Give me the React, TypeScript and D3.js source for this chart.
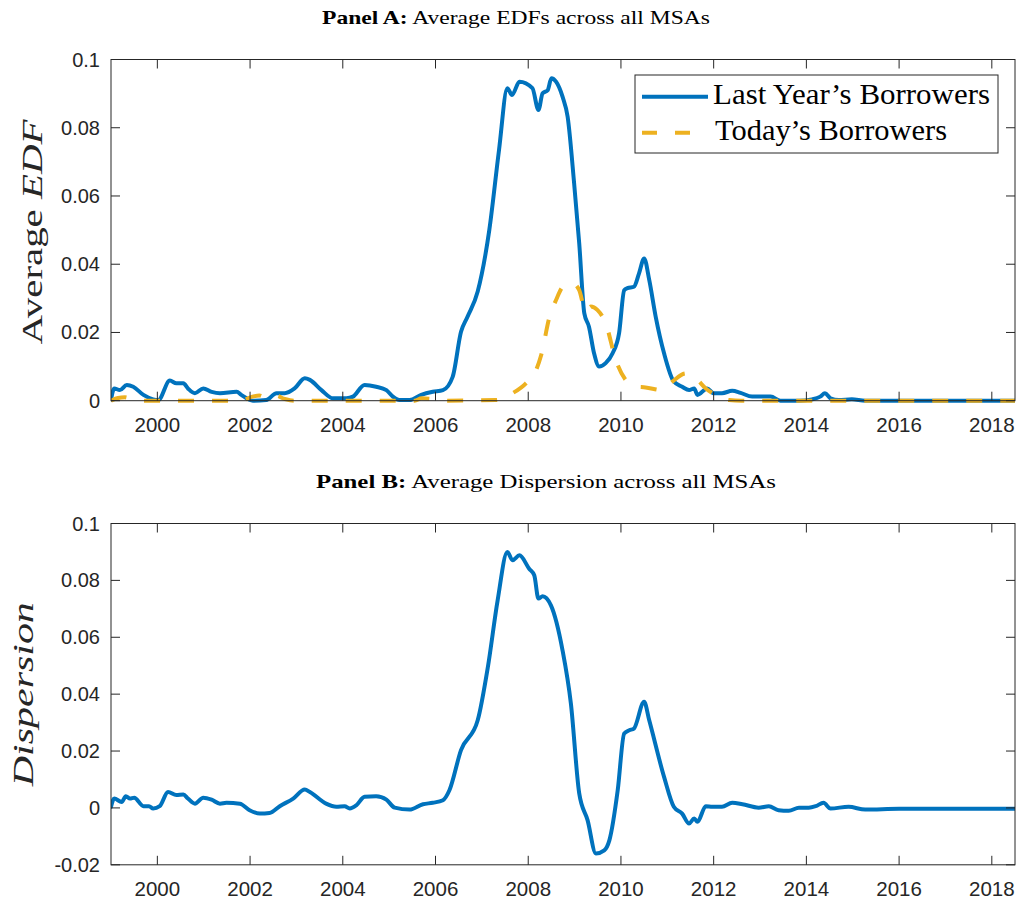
import React from 'react';
import * as d3 from 'd3';

// ---------- data ----------
const yearTicks = [2000, 2002, 2004, 2006, 2008, 2010, 2012, 2014, 2016, 2018];
const edfTicks = [0, 0.02, 0.04, 0.06, 0.08, 0.1];
const dispTicks = [-0.02, 0, 0.02, 0.04, 0.06, 0.08, 0.1];

const lastYearDates = [1999.00, 1999.07, 1999.19, 1999.34, 1999.48, 1999.70, 1999.91, 2000.02, 2000.27, 2000.41, 2000.56, 2000.66, 2000.81, 2000.99, 2001.17, 2001.35, 2001.71, 2001.81, 2002.06, 2002.35, 2002.57, 2002.75, 2002.96, 2003.18, 2003.29, 2003.54, 2003.79, 2004.08, 2004.22, 2004.47, 2004.72, 2004.94, 2005.08, 2005.22, 2005.44, 2005.69, 2005.94, 2006.16, 2006.37, 2006.55, 2006.69, 2006.91, 2007.16, 2007.37, 2007.55, 2007.65, 2007.81, 2008.09, 2008.22, 2008.31, 2008.42, 2008.50, 2008.60, 2008.74, 2008.85, 2008.99, 2009.10, 2009.21, 2009.31, 2009.42, 2009.53, 2009.67, 2009.82, 2009.96, 2010.07, 2010.14, 2010.28, 2010.39, 2010.50, 2010.61, 2010.75, 2010.93, 2011.14, 2011.32, 2011.47, 2011.58, 2011.65, 2011.86, 2012.00, 2012.18, 2012.40, 2012.58, 2012.83, 2013.23, 2013.44, 2013.84, 2014.12, 2014.30, 2014.40, 2014.52, 2014.70, 2014.98, 2015.27, 2018.50];
const lastYearEDF = [0.0002, 0.0036, 0.0031, 0.0046, 0.0041, 0.0017, 0.0004, 0.0002, 0.0059, 0.0051, 0.0051, 0.0036, 0.0022, 0.0036, 0.0026, 0.0022, 0.0026, 0.0017, 0.0000, 0.0002, 0.0022, 0.0022, 0.0036, 0.0066, 0.0061, 0.0031, 0.0007, 0.0007, 0.0012, 0.0046, 0.0041, 0.0031, 0.0012, 0.0002, 0.0002, 0.0017, 0.0026, 0.0031, 0.0070, 0.0202, 0.0246, 0.0320, 0.0500, 0.0735, 0.0916, 0.0896, 0.0935, 0.0916, 0.0852, 0.0901, 0.0910, 0.0945, 0.0935, 0.0891, 0.0832, 0.0637, 0.0461, 0.0256, 0.0217, 0.0139, 0.0100, 0.0110, 0.0139, 0.0198, 0.0324, 0.0330, 0.0334, 0.0373, 0.0417, 0.0354, 0.0246, 0.0139, 0.0056, 0.0041, 0.0031, 0.0036, 0.0017, 0.0036, 0.0022, 0.0022, 0.0029, 0.0023, 0.0012, 0.0012, 0.0000, 0.0000, 0.0004, 0.0012, 0.0022, 0.0007, 0.0002, 0.0004, 0.0000, 0.0000];

const todayDates = [1999.00, 1999.15, 1999.30, 1999.50, 1999.80, 2001.80, 2002.05, 2002.20, 2002.35, 2002.55, 2002.75, 2002.95, 2005.55, 2005.70, 2005.95, 2006.20, 2007.30, 2007.66, 2007.95, 2008.17, 2008.28, 2008.46, 2008.60, 2008.75, 2008.96, 2009.10, 2009.24, 2009.35, 2009.49, 2009.67, 2009.89, 2010.10, 2010.32, 2010.53, 2010.89, 2011.11, 2011.40, 2011.61, 2011.83, 2012.12, 2012.33, 2012.60, 2018.50];
const todayEDF = [0.0000, 0.0008, 0.0010, 0.0002, 0.0000, 0.0000, 0.0012, 0.0015, 0.0008, 0.0015, 0.0005, 0.0000, 0.0000, 0.0007, 0.0005, 0.0000, 0.0002, 0.0022, 0.0051, 0.0090, 0.0134, 0.0246, 0.0295, 0.0334, 0.0344, 0.0324, 0.0261, 0.0276, 0.0266, 0.0227, 0.0119, 0.0061, 0.0041, 0.0039, 0.0031, 0.0056, 0.0080, 0.0066, 0.0036, 0.0012, 0.0002, 0.0000, 0.0000];

const dispersionDates = [1999.00, 1999.07, 1999.23, 1999.32, 1999.41, 1999.50, 1999.70, 1999.82, 1999.91, 2000.05, 2000.23, 2000.41, 2000.56, 2000.66, 2000.81, 2000.99, 2001.17, 2001.35, 2001.49, 2001.78, 2001.99, 2002.21, 2002.42, 2002.64, 2002.93, 2003.18, 2003.29, 2003.64, 2003.86, 2004.04, 2004.15, 2004.29, 2004.47, 2004.72, 2004.94, 2005.12, 2005.44, 2005.73, 2005.94, 2006.16, 2006.30, 2006.55, 2006.91, 2007.13, 2007.34, 2007.55, 2007.66, 2007.81, 2008.02, 2008.13, 2008.22, 2008.31, 2008.49, 2008.74, 2008.92, 2009.10, 2009.28, 2009.46, 2009.64, 2009.75, 2009.93, 2010.07, 2010.18, 2010.28, 2010.50, 2010.61, 2010.93, 2011.14, 2011.32, 2011.47, 2011.58, 2011.65, 2011.83, 2011.97, 2012.18, 2012.40, 2012.62, 2012.97, 2013.19, 2013.40, 2013.62, 2013.84, 2014.05, 2014.20, 2014.37, 2014.52, 2014.91, 2015.27, 2016.00, 2018.50];
const dispersionValues = [0.0004, 0.0033, 0.0021, 0.0041, 0.0033, 0.0036, 0.0006, 0.0006, -0.0002, 0.0006, 0.0056, 0.0045, 0.0047, 0.0033, 0.0015, 0.0036, 0.0029, 0.0015, 0.0018, 0.0015, -0.0008, -0.0020, -0.0018, 0.0006, 0.0033, 0.0065, 0.0056, 0.0015, 0.0004, 0.0006, -0.0002, 0.0009, 0.0039, 0.0041, 0.0029, 0.0001, -0.0006, 0.0013, 0.0018, 0.0027, 0.0062, 0.0203, 0.0308, 0.0496, 0.0730, 0.0900, 0.0871, 0.0888, 0.0841, 0.0818, 0.0736, 0.0744, 0.0712, 0.0554, 0.0367, 0.0051, -0.0043, -0.0160, -0.0149, -0.0114, 0.0062, 0.0262, 0.0273, 0.0279, 0.0373, 0.0308, 0.0109, 0.0004, -0.0020, -0.0055, -0.0037, -0.0049, 0.0006, 0.0004, 0.0004, 0.0018, 0.0013, 0.0001, 0.0006, -0.0008, -0.0010, 0.0001, 0.0001, 0.0006, 0.0018, -0.0002, 0.0004, -0.0006, -0.0003, -0.0003];

// ---------- styling ----------
const BLUE = '#0072BD';
const YELLOW = '#EDB120';
const AXIS = '#262626';
const SANS = '"Liberation Sans", Arial, Helvetica, sans-serif';
const SERIF = '"Liberation Serif", "Times New Roman", serif';

const X0 = 111;
const X1 = 1015;
const fmt = (v: number) => String(+v.toFixed(2));

type PanelProps = {
  top: number;
  bottom: number;
  yDomain: [number, number];
  yTicks: number[];
  series: { dates: number[]; values: number[]; color: string; dash?: string }[];
  id: string;
};

function Panel({ top, bottom, yDomain, yTicks, series, id }: PanelProps) {
  const x = d3.scaleLinear().domain([1999, 2018.5]).range([X0, X1]);
  const y = d3.scaleLinear().domain(yDomain).range([bottom, top]);
  const tick = 9;
  return (
    <g>
      <defs>
        <clipPath id={id}>
          <rect x={X0} y={top - 3} width={X1 - X0} height={bottom - top + 6} />
        </clipPath>
      </defs>
      <g clipPath={`url(#${id})`}>
        {series.map((s, i) => {
          const pts = s.dates.map((d, k) => [d, s.values[k]] as [number, number]);
          const line = d3
            .line<[number, number]>()
            .x((p) => x(p[0]))
            .y((p) => y(p[1]))
            .curve(d3.curveMonotoneX);
          return (
            <path
              key={i}
              d={line(pts) || ''}
              fill="none"
              stroke={s.color}
              strokeWidth={4}
              strokeLinejoin="round"
              strokeLinecap={s.dash ? 'butt' : 'round'}
              strokeDasharray={s.dash}
            />
          );
        })}
      </g>
      <rect x={X0} y={top} width={X1 - X0} height={bottom - top} fill="none" stroke={AXIS} strokeWidth={1} />
      {yearTicks.map((t) => (
        <g key={'x' + t}>
          <line x1={x(t)} x2={x(t)} y1={bottom} y2={bottom - tick} stroke={AXIS} />
          <line x1={x(t)} x2={x(t)} y1={top} y2={top + tick} stroke={AXIS} />
          <text x={x(t)} y={bottom + 31} textAnchor="middle" fontFamily={SANS} fontSize={20.5} fill={AXIS}>
            {t}
          </text>
        </g>
      ))}
      {yTicks.map((t) => (
        <g key={'y' + t}>
          <line x1={X0} x2={X0 + tick} y1={y(t)} y2={y(t)} stroke={AXIS} />
          <line x1={X1} x2={X1 - tick} y1={y(t)} y2={y(t)} stroke={AXIS} />
          <text x={X0 - 11} y={y(t) + 7} textAnchor="end" fontFamily={SANS} fontSize={20} fill={AXIS}>
            {fmt(t)}
          </text>
        </g>
      ))}
    </g>
  );
}

export default function App() {
  const aTop = 59.5, aBottom = 400.7;
  const bTop = 523.5, bBottom = 864.8;
  return (
    <svg width={1020} height={901} style={{ position: 'absolute', left: 0, top: 0, background: '#fff' }}>
      <rect x={0} y={0} width={1020} height={901} fill="#fff" />
      {/* Titles */}
      <text x={322} y={24} fontFamily={SERIF} fontSize={19.5} fill="#000" textLength={388} lengthAdjust="spacingAndGlyphs">
        <tspan fontWeight="bold">Panel A:</tspan> Average EDFs across all MSAs
      </text>
      <text x={316} y={488} fontFamily={SERIF} fontSize={19.5} fill="#000" textLength={460} lengthAdjust="spacingAndGlyphs">
        <tspan fontWeight="bold">Panel B:</tspan> Average Dispersion across all MSAs
      </text>

      <Panel
        id="clipA"
        top={aTop}
        bottom={aBottom}
        yDomain={[0, 0.1]}
        yTicks={edfTicks}
        series={[
          { dates: lastYearDates, values: lastYearEDF, color: BLUE },
          { dates: todayDates, values: todayEDF, color: YELLOW, dash: '16,18' },
        ]}
      />
      <Panel
        id="clipB"
        top={bTop}
        bottom={bBottom}
        yDomain={[-0.02, 0.1]}
        yTicks={dispTicks}
        series={[{ dates: dispersionDates, values: dispersionValues, color: BLUE }]}
      />

      {/* Y labels */}
      <text
        transform={`translate(42, ${(aTop + aBottom) / 2 + 2}) rotate(-90)`}
        textAnchor="middle"
        fontFamily={SERIF}
        fontSize={30}
        fill={AXIS}
        textLength={225}
        lengthAdjust="spacingAndGlyphs"
      >
        Average <tspan fontStyle="italic">EDF</tspan>
      </text>
      <text
        transform={`translate(33, ${(bTop + bBottom) / 2}) rotate(-90)`}
        textAnchor="middle"
        fontFamily={SERIF}
        fontSize={30}
        fontStyle="italic"
        fill={AXIS}
        textLength={184}
        lengthAdjust="spacingAndGlyphs"
      >
        Dispersion
      </text>

      {/* Legend */}
      <rect x={635} y={75} width={363} height={78} fill="#fff" stroke={AXIS} strokeWidth={1} />
      <line x1={642} x2={708} y1={96.7} y2={96.7} stroke={BLUE} strokeWidth={4} />
      <line x1={642} x2={708} y1={132.7} y2={132.7} stroke={YELLOW} strokeWidth={4} strokeDasharray="15,18" />
      <text x={713} y={104} fontFamily={SERIF} fontSize={29} fill="#000" textLength={277} lengthAdjust="spacingAndGlyphs">
        Last Year’s Borrowers
      </text>
      <text x={715} y={140} fontFamily={SERIF} fontSize={29} fill="#000" textLength={232} lengthAdjust="spacingAndGlyphs">
        Today’s Borrowers
      </text>
    </svg>
  );
}
